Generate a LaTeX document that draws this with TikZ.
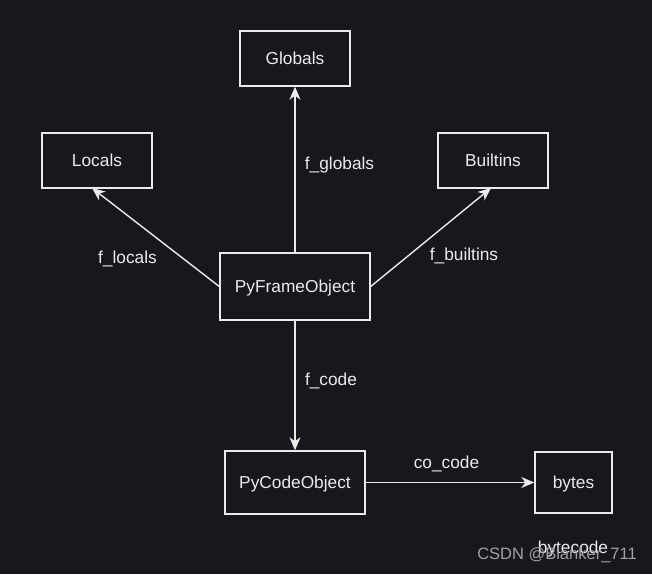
\documentclass[tikz,border=0pt]{standalone}
\usepackage{fontspec}
\setmainfont{Liberation Sans}
\usetikzlibrary{arrows.meta}
\definecolor{bgc}{RGB}{25,22,29}
\definecolor{fg}{RGB}{235,235,235}
\definecolor{wm}{RGB}{160,160,165}
\begin{document}
\begin{tikzpicture}[x=1pt,y=-1pt,
  box/.style={draw=fg,line width=1.4pt,fill=bgc,text=fg,minimum width=#1,inner sep=0pt,text height=12.5pt,text depth=0pt,font=\fontsize{17.3}{20}\selectfont},
  lbl/.style={text=fg,font=\fontsize{17.3}{20}\selectfont,inner sep=0pt,text height=12.5pt,text depth=0pt},
  conn/.style={draw=fg,line width=1.4pt,-{Stealth[length=13pt,width=11pt,inset=4pt]}}]
\fill[bgc] (0,0) rectangle (652,574);
\useasboundingbox (0,0) rectangle (652,574);
\node[box=110pt,minimum height=55pt] (glob) at (295,58.5) {Globals};
\node[box=110pt,minimum height=55pt] (loc) at (97,160.5) {Locals};
\node[box=110pt,minimum height=55pt] (bui) at (493,160.5) {Builtins};
\node[box=150pt,minimum height=67pt] (frame) at (295,286.5) {PyFrameObject};
\node[box=140pt,minimum height=63pt] (code) at (295,482.5) {PyCodeObject};
\node[box=77pt,minimum height=61pt] (bytes) at (573.5,482.5) {bytes};
\coordinate (locend) at (92,188);
\coordinate (buiend) at (491,188);
\draw[conn] (frame.north) -- (glob.south);
\draw[conn] (frame.west) -- (locend);
\draw[conn] (frame.east) -- (buiend);
\draw[conn] (frame.south) -- (code.north);
\draw[conn] (code.east) -- (bytes.west);
\node[lbl] (lg) at (339.5,163) {f\_globals};
\node[lbl] (ll) at (127.5,257) {f\_locals};
\node[lbl] (lb) at (464,254) {f\_builtins};
\node[lbl] (lc) at (331,379) {f\_code};
\node[lbl] (lcc) at (446.5,462) {co\_code};
\node[lbl] (lbc) at (573,547) {bytecode};
\node[text=wm,font=\fontsize{16.5}{19}\selectfont,inner sep=0pt] (wmk) at (557,555.5) {CSDN @Blanker\_711};
\end{tikzpicture}
\end{document}
